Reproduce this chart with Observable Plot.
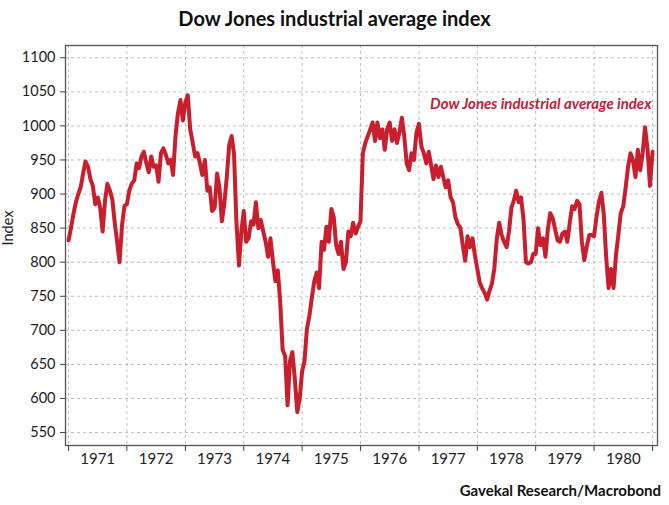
<!DOCTYPE html>
<html><head><meta charset="utf-8">
<script src="https://cdn.jsdelivr.net/npm/d3@7"></script>
<script src="https://cdn.jsdelivr.net/npm/@observablehq/plot@0.6"></script>
<style>
body{margin:0;background:#fff;font-family:Lato,sans-serif;}
#wrap{position:relative;width:669px;height:505px;}
#chart{position:absolute;left:0;top:0;}
#title{position:absolute;top:6px;left:0;width:669px;text-align:center;font-weight:700;font-size:20px;color:#111;z-index:2;}
#caption{position:absolute;top:481px;right:8px;font-weight:700;font-size:15px;color:#111;z-index:2;}
</style></head><body>
<div id="wrap"><div id="chart"></div><div id="title">Dow Jones industrial average index</div><div id="caption">Gavekal Research/Macrobond</div></div>
<script>
// Semi-monthly readings of the Dow Jones industrial average (24 per year)
const v1971 = [832, 850, 870, 888, 900, 910, 930, 948, 940, 922, 912, 885, 895, 880, 845, 890, 915, 905, 892, 858, 830, 800, 855, 883];
const v1972 = [885, 905, 915, 920, 945, 938, 955, 962, 945, 932, 955, 940, 942, 918, 960, 967, 958, 945, 950, 928, 985, 1018, 1038, 1008];
const v1973 = [1035, 1045, 995, 975, 955, 960, 945, 928, 950, 905, 910, 875, 880, 930, 910, 860, 885, 925, 972, 985, 960, 860, 795, 845];
const v1974 = [875, 830, 835, 860, 855, 888, 850, 862, 845, 830, 808, 835, 800, 772, 788, 742, 672, 662, 590, 655, 668, 630, 580, 600];
const v1975 = [640, 655, 702, 722, 748, 772, 785, 762, 830, 818, 852, 830, 878, 866, 825, 812, 830, 790, 800, 845, 838, 858, 842, 852];
const v1976 = [860, 960, 975, 985, 995, 1005, 978, 1005, 982, 995, 965, 995, 1005, 978, 995, 975, 990, 1012, 985, 945, 935, 960, 950, 990];
const v1977 = [1003, 970, 960, 945, 962, 942, 922, 942, 925, 940, 925, 910, 920, 895, 888, 866, 856, 850, 825, 802, 838, 822, 835, 810];
const v1978 = [790, 770, 762, 755, 745, 758, 768, 790, 835, 858, 840, 830, 822, 845, 880, 890, 905, 888, 895, 862, 800, 798, 800, 812];
const v1979 = [812, 850, 825, 835, 808, 848, 872, 865, 848, 832, 830, 842, 845, 830, 858, 882, 878, 890, 885, 830, 803, 822, 840, 840];
const v1980 = [838, 866, 888, 902, 870, 807, 762, 790, 762, 810, 840, 872, 882, 910, 940, 960, 950, 925, 965, 935, 960, 998, 965, 912];
const vEnd = [962]; // 1 Jan 1981

const years = [1971, 1972, 1973, 1974, 1975, 1976, 1977, 1978, 1979, 1980];
const yearEdges = [1971, 1972, 1973, 1974, 1975, 1976, 1977, 1978, 1979, 1980, 1981];
const yTicks = [550, 600, 650, 700, 750, 800, 850, 900, 950, 1000, 1050, 1100];
const seriesName = "Dow Jones industrial average index";

const byYear = [v1971, v1972, v1973, v1974, v1975, v1976, v1977, v1978, v1979, v1980];
const data = [];
byYear.forEach((vals, k) => {
  const yr = years[k];
  vals.forEach((v, i) => data.push({date: new Date(yr, 0, 1 + Math.round(i * 365 / 24)), value: v}));
});
data.push({date: new Date(1981, 0, 1), value: vEnd[0]});

const edgeDates = yearEdges.map(y => new Date(y, 0, 1));

const chart = Plot.plot({
  width: 669, height: 505,
  marginLeft: 65, marginRight: 12, marginTop: 45, marginBottom: 60,
  style: {fontFamily: "Lato, sans-serif", fontSize: "14px", color: "#222", background: "#fff"},
  x: {type: "time", domain: [new Date(1970, 11, 13), new Date(1981, 1, 1)]},
  y: {domain: [531, 1118]},
  marks: [
    Plot.gridY(yTicks, {stroke: "#999", strokeOpacity: 0.8, strokeWidth: 0.8, strokeDasharray: "3,3"}),
    Plot.gridX(edgeDates, {stroke: "#999", strokeOpacity: 0.8, strokeWidth: 0.8, strokeDasharray: "3,3"}),
    Plot.line(data, {x: "date", y: "value", stroke: "#c81e2d", strokeWidth: 4}),
    Plot.text([seriesName], {frameAnchor: "top-right", textAnchor: "end", lineAnchor: "middle", dx: -6, dy: 59,
      fontStyle: "italic", fontWeight: "bold", fill: "#c2203a", fontSize: 15}),
    Plot.frame({stroke: "#555", strokeWidth: 1.3}),
    Plot.axisY(yTicks, {tickSize: 5, tickPadding: 5, label: null, fontSize: 14.5, stroke: "#444", tickFormat: d => String(d)}),
    Plot.axisX(edgeDates, {tickSize: 6, tickFormat: () => "", label: null, stroke: "#444"}),
    Plot.text(years, {x: d => new Date(d, 6, 2), text: d => String(d), frameAnchor: "bottom", dy: 18, fontSize: 15, fill: "#222"}),
    Plot.text(["Index"], {frameAnchor: "left", dx: -57, rotate: -90, fontSize: 14.5, fill: "#222"})
  ]
});
document.getElementById("chart").appendChild(chart);
</script>
</body></html>
